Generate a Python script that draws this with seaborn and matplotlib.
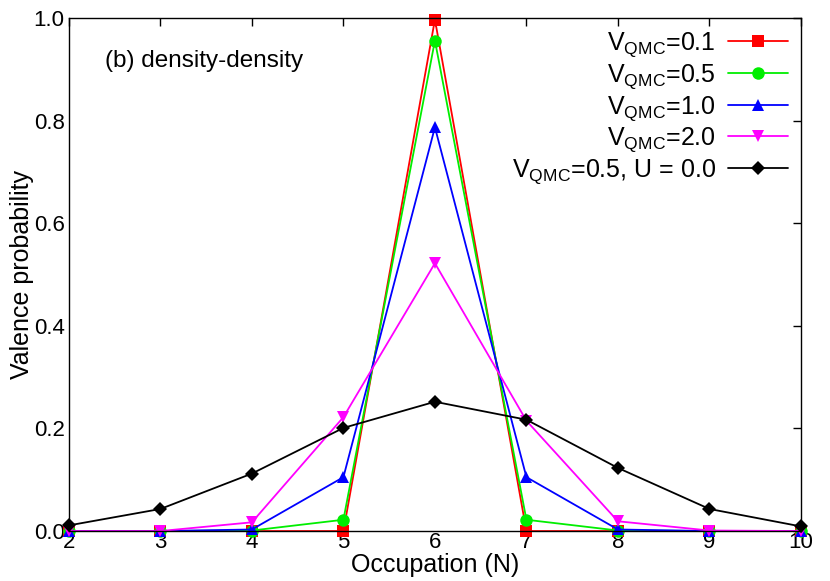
import numpy as np
import pandas as pd
import matplotlib
matplotlib.use('Agg')
import matplotlib.pyplot as plt
import seaborn as sns

# Datos
occupation = [2, 3, 4, 5, 6, 7, 8, 9, 10]
v01 = [0.0, 0.0, 0.0, 0.0, 0.997, 0.0, 0.0, 0.0, 0.0]
v05 = [0.0, 0.0, 0.001, 0.022, 0.956, 0.022, 0.001, 0.0, 0.0]
v10 = [0.0, 0.0, 0.003, 0.105, 0.787, 0.105, 0.003, 0.0, 0.0]
v20 = [0.0, 0.0, 0.017, 0.222, 0.522, 0.215, 0.019, 0.001, 0.0]
v05_u0 = [0.011, 0.043, 0.112, 0.201, 0.252, 0.217, 0.123, 0.043, 0.009]

labels = [r'V$_{QMC}$=0.1', r'V$_{QMC}$=0.5', r'V$_{QMC}$=1.0',
          r'V$_{QMC}$=2.0', r'V$_{QMC}$=0.5, U = 0.0']
series = [v01, v05, v10, v20, v05_u0]
colors = ['#ff0000', '#00ee00', '#0000ff', '#ff00ff', '#000000']
markers = ['s', 'o', '^', 'v', 'D']
msizes = [9, 9, 8, 8, 7]

sns.set_style('white')
plt.rcParams['font.family'] = ['Liberation Sans', 'DejaVu Sans']
plt.rcParams['mathtext.default'] = 'regular'
plt.rcParams['text.color'] = 'black'
plt.rcParams['axes.labelcolor'] = 'black'
plt.rcParams['xtick.color'] = 'black'
plt.rcParams['ytick.color'] = 'black'

fig = plt.figure(figsize=(8.3, 5.81), dpi=100)
ax = fig.add_axes([0.083, 0.086, 0.882, 0.883])

for lab, vals, c, m, ms in zip(labels, series, colors, markers, msizes):
    df = pd.DataFrame({'N': occupation, 'p': vals})
    sns.lineplot(data=df, x='N', y='p', color=c, marker=m, markersize=ms,
                 markeredgewidth=0, linewidth=1.3, label=lab, ax=ax,
                 clip_on=False)

ax.set_xlim(2, 10)
ax.set_ylim(0, 1.0)
ax.set_xticks(occupation)
ax.set_yticks(np.arange(0, 1.01, 0.2))
ax.set_yticklabels([f'{v:.1f}' for v in np.arange(0, 1.01, 0.2)])
ax.tick_params(direction='in', top=True, right=True, length=6, width=1,
               labelsize=16)
ax.tick_params(axis='x', pad=1)
ax.tick_params(axis='y', pad=3)
for s in ax.spines.values():
    s.set_color('black')
    s.set_linewidth(1)

ax.set_xlabel('Occupation (N)', fontsize=18, labelpad=0)
ax.set_ylabel('Valence probability', fontsize=18, labelpad=0)
ax.text(0.05, 0.905, '(b) density-density', transform=ax.transAxes, fontsize=17.5)

ax.legend(loc='upper right', frameon=False, markerfirst=False, fontsize=18,
          handlelength=2.4, labelspacing=0.12, borderaxespad=0.1,
          handletextpad=0.5)

fig.savefig('out.png', dpi=100)
